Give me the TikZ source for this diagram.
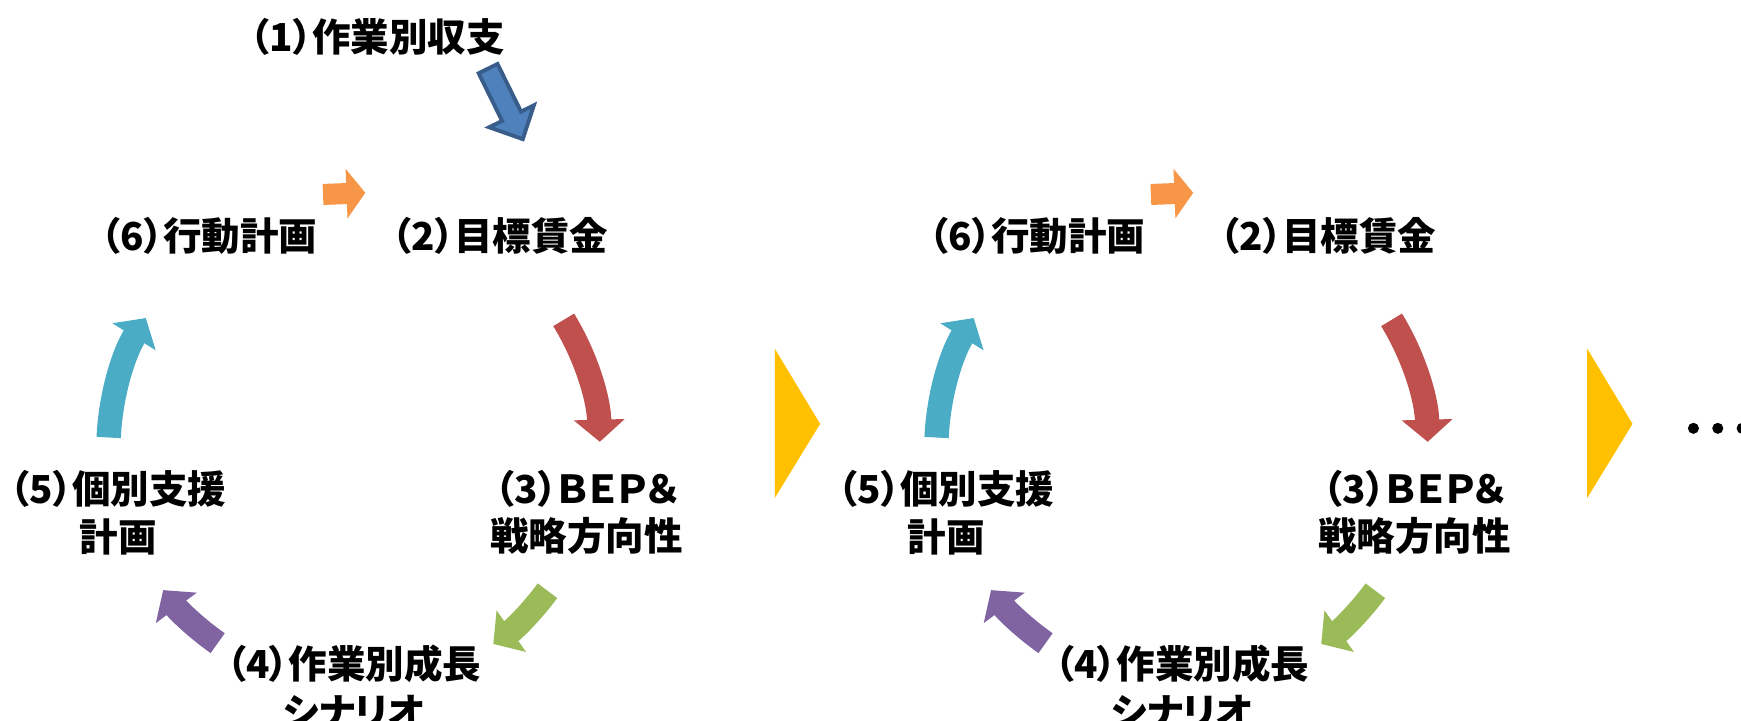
\documentclass[tikz,border=0pt]{standalone}
\usepackage{fontspec}
\newfontfamily\jp[RawFeature=+palt]{Noto Sans CJK JP}
\usetikzlibrary{arrows.meta}
\definecolor{cycblue}{HTML}{4F81BD}
\definecolor{cycbluedark}{HTML}{385D8A}
\definecolor{cycorange}{HTML}{F79646}
\definecolor{cycred}{HTML}{C0504D}
\definecolor{cycgreen}{HTML}{9BBB59}
\definecolor{cycpurple}{HTML}{8064A2}
\definecolor{cycteal}{HTML}{4BACC6}
\definecolor{cycyellow}{HTML}{FFC000}

\begin{document}
\begin{tikzpicture}[x=0.02cm,y=0.02cm,
  lbl/.style={font=\jp\bfseries\fontsize{19.8}{24.5}\selectfont,align=center,inner sep=0pt},
  cyc/.style={line width=0.44cm,-{Triangle[length=0.4cm,width=0.9cm]}},
  cycsmall/.style={line width=0.38cm,-{Triangle[length=0.34cm,width=0.88cm]}}]
\useasboundingbox (0,0) rectangle (1573,651);
\coordinate (c1) at (320,246);
\coordinate (c2) at (1068,246);
% first round
\node[lbl] (a1) at (341,618) {（1）作業別収支};
\node[lbl] (a6) at (189,438) {（6）行動計画};
\node[lbl] (a2) at (452,438) {（2）目標賃金};
\node[lbl] (a3) at (530,188) {（3）ＢＥＰ＆\\戦略方向性};
\node[lbl] (a4) at (320,30) {（4）作業別成長\\シナリオ};
\node[lbl] (a5) at (107,188) {（5）個別支援\\計画};
% second round
\node[lbl] (b6) at (937,438) {（6）行動計画};
\node[lbl] (b2) at (1200,438) {（2）目標賃金};
\node[lbl] (b3) at (1278,188) {（3）ＢＥＰ＆\\戦略方向性};
\node[lbl] (b4) at (1068,30) {（4）作業別成長\\シナリオ};
\node[lbl] (b5) at (855,188) {（5）個別支援\\計画};
% start arrow
\begin{scope}[shift={(441,589)},rotate=-63.8]
\draw[line width=0.07cm,draw=cycbluedark,fill=cycblue] (0,9.5) -- (48,9.5) -- (48,22.5) -- (71,0) -- (48,-22.5) -- (48,-9.5) -- (0,-9.5) -- cycle;
\end{scope}
% cycle arrows
\foreach \c in {c1,c2} {
  \path (\c) ++(97:231) coordinate (os) (\c) ++(87.5:231) coordinate (oe);
  \draw[cycsmall,cycorange] (os) -- (oe);
  \draw[cyc,cycred] (\c) ++(31.5:222) arc[start angle=31.5,end angle=1.5,radius=222];
  \draw[cyc,cycgreen] (\c) ++(-36.4:217) arc[start angle=-36.4,end angle=-54.6,radius=217];
  \draw[cyc,cycpurple] (\c) ++(-125:215) arc[start angle=-125,end angle=-143.4,radius=215];
  \draw[cyc,cycteal] (\c) ++(177.5:222) arc[start angle=177.5,end angle=148,radius=222];
}
% next rounds
\fill[cycyellow] (700,336) -- (741,268) -- (700,201) -- cycle;
\fill[cycyellow] (1434,336) -- (1475,268) -- (1434,201) -- cycle;
\fill (1530,264) circle[radius=5];
\fill (1552,264) circle[radius=5];
\fill (1574,264) circle[radius=5];
\end{tikzpicture}
\end{document}
